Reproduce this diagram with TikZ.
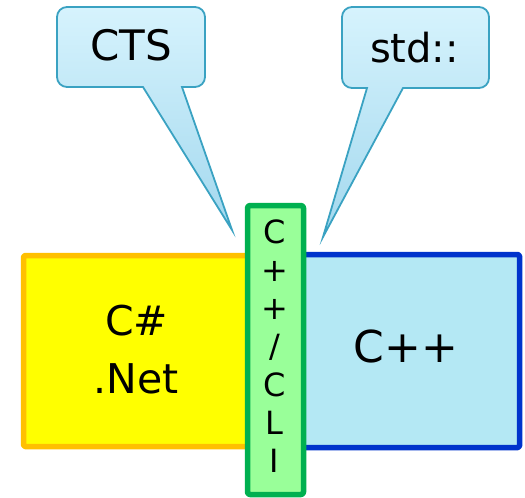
\documentclass[tikz,border=0pt]{standalone}
\usepackage{fontspec}
\setmainfont{DejaVu Sans}
\definecolor{boxyellow}{HTML}{FFFF00}
\definecolor{edgeorange}{HTML}{FFC000}
\definecolor{boxcyan}{HTML}{B4E8F4}
\definecolor{edgeblue}{HTML}{0033CC}
\definecolor{boxgreen}{HTML}{99FF99}
\definecolor{edgegreen}{HTML}{00B050}
\definecolor{calltop}{HTML}{D6F3FD}
\definecolor{callbot}{HTML}{A3D8EE}
\definecolor{calledge}{HTML}{3AA2C2}
\tikzset{
  langbox/.style={line width=5.5pt, rounded corners=1.5pt, line join=round},
  callout/.style={draw=calledge, line width=1.8pt, line join=miter,
    top color=calltop, bottom color=callbot},
  bigtext/.style={anchor=base, inner sep=0pt, font=\fontsize{41}{49}\selectfont},
  striptext/.style={anchor=base, inner sep=0pt, font=\fontsize{32}{38}\selectfont},
}
\begin{document}
\begin{tikzpicture}[x=1pt,y=-1pt]
  \useasboundingbox (0,0) rectangle (525,498);

  % the two language blocks
  \draw[langbox, draw=edgeorange, fill=boxyellow] (23.5,255.5) rectangle (250,446.5);
  \draw[langbox, draw=edgeblue, fill=boxcyan] (300,254.5) rectangle (519.5,447.5);

  % the bridging strip drawn on top
  \draw[langbox, draw=edgegreen, fill=boxgreen, rounded corners=2.5pt]
    (247.5,205.5) rectangle (303.5,494.5);

  % block labels
  \node[bigtext] (csharp) at (136.5,335) {C\#};
  \node[bigtext] (dotnet) at (136,393) {.Net};
  \node[anchor=base, inner sep=0pt, font=\fontsize{44}{52}\selectfont]
    (cpp) at (406,362) {C++};

  % stacked letters inside the strip
  \foreach \ch [count=\i] in {C,+,+,/,C,L,I}
    \node[striptext] (s\i) at (274.5,{243+38.33*(\i-1)}) {\ch};

  % speech bubble on the left
  \path[callout]
    (143,87) -- (232,230) -- (182,87) -- (195,87)
    arc[start angle=90, end angle=0, radius=10] -- (205,17)
    arc[start angle=0, end angle=-90, radius=10] -- (67,7)
    arc[start angle=-90, end angle=-180, radius=10] -- (57,77)
    arc[start angle=180, end angle=90, radius=10] -- cycle;
  \node[anchor=base, inner sep=0pt, font=\fontsize{42}{50}\selectfont]
    (cts) at (131.5,60) {CTS};

  % speech bubble on the right
  \path[callout]
    (367,88) -- (323,237) -- (403,88) -- (479,88)
    arc[start angle=90, end angle=0, radius=10] -- (489,17)
    arc[start angle=0, end angle=-90, radius=10] -- (352,7)
    arc[start angle=-90, end angle=-180, radius=10] -- (342,78)
    arc[start angle=180, end angle=90, radius=10] -- cycle;
  \node[anchor=base, inner sep=0pt, font=\fontsize{40}{48}\selectfont]
    (stdns) at (414.5,62) {std::};
\end{tikzpicture}
\end{document}
